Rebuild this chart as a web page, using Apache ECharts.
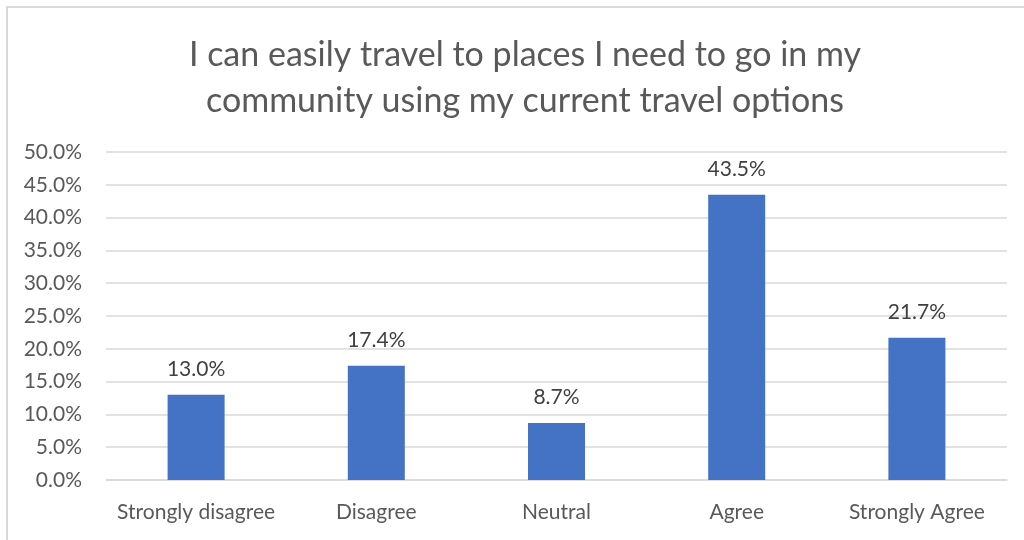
<!DOCTYPE html>
<html>
<head>
<meta charset="utf-8">
<script src="https://cdn.jsdelivr.net/npm/echarts@6/dist/echarts.min.js"></script>
<style>
  html, body { margin: 0; padding: 0; background: #fff; }
  #frame { position: absolute; left: 6px; top: 6px; width: 1030px; height: 550px; border: 2px solid #d9d9d9; box-sizing: border-box; }
  #chart { position: absolute; left: 0; top: 0; width: 1024px; height: 540px; }
</style>
</head>
<body>
<div id="frame"></div>
<div id="chart"></div>
<script>
const titleText = 'I can easily travel to places I need to go in my\ncommunity using my current travel options';
const categories = ['Strongly disagree', 'Disagree', 'Neutral', 'Agree', 'Strongly Agree'];
const percentages = [13.0, 17.4, 8.7, 43.5, 21.7];

const chart = echarts.init(document.getElementById('chart'), null, { renderer: 'canvas' });
const fontFamily = 'Lato, sans-serif';

chart.setOption({
  backgroundColor: 'transparent',
  animation: false,
  title: {
    text: titleText,
    left: 520,
    top: 27,
    textAlign: 'center',
    textStyle: { fontFamily, fontSize: 34, fontWeight: 'normal', color: '#595959', lineHeight: 46 }
  },
  grid: { left: 106, right: 17, top: 152, bottom: 60, containLabel: false },
  xAxis: {
    type: 'category',
    data: categories,
    axisLine: { lineStyle: { color: '#d9d9d9', width: 1.5 } },
    axisTick: { show: false },
    axisLabel: { interval: 0, fontFamily, fontSize: 21, color: '#595959', margin: 22 }
  },
  yAxis: {
    type: 'value',
    min: 0,
    max: 50,
    interval: 5,
    axisLine: { show: false },
    axisTick: { show: false },
    splitLine: { lineStyle: { color: '#d9d9d9', width: 1.5 } },
    axisLabel: { fontFamily, fontSize: 21, color: '#595959', margin: 24, formatter: v => v.toFixed(1) + '%' }
  },
  series: [{
    type: 'bar',
    data: percentages,
    barWidth: 57,
    itemStyle: { color: '#4472c4' },
    label: {
      show: true,
      position: 'top',
      distance: 15,
      fontFamily,
      fontSize: 21,
      color: '#404040',
      formatter: p => p.value.toFixed(1) + '%'
    }
  }]
});
</script>
</body>
</html>
